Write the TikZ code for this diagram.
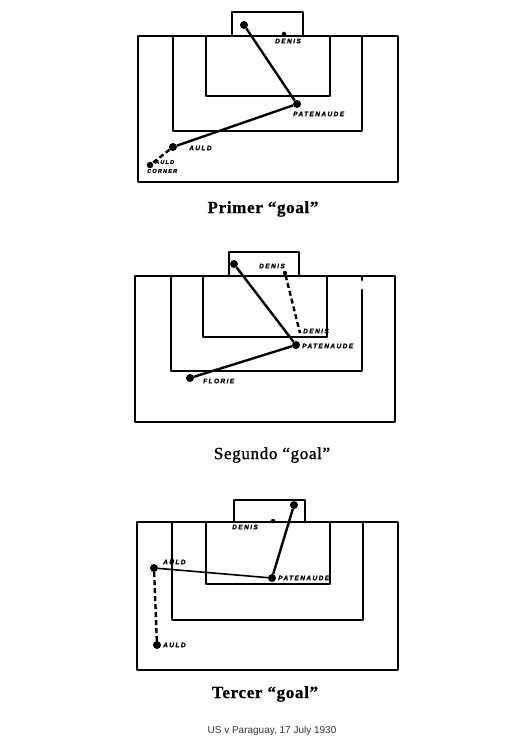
\documentclass[tikz,border=0pt]{standalone}
\usepackage{fontspec}
\newfontfamily\lblfont[LetterSpace=22,FakeBold=1.5]{Liberation Sans}
\newfontfamily\capserif[LetterSpace=4,FakeBold=0.8]{Liberation Serif}
\newfontfamily\segserif[LetterSpace=4,FakeBold=1.2]{Liberation Serif}
\newfontfamily\creditfont{Liberation Sans}
\usetikzlibrary{positioning}
\tikzset{
	field/.style  = {line width=2.2pt,line cap=round,line join=round},
	player/.style = {circle,fill=black,inner sep=0pt,minimum size=8pt},
	spot/.style   = {circle,fill=black,inner sep=0pt,minimum size=4.5pt},
	plabel/.style = {font=\lblfont\fontsize{6.5}{7}\selectfont\bfseries\itshape,
		inner sep=0pt,anchor=west},
	slabel/.style = {font=\lblfont\fontsize{5.5}{6}\selectfont\bfseries\itshape,
		inner sep=0pt,anchor=west},
	run/.style    = {line width=2.4pt},
	runb/.style   = {line width=2.4pt,dash pattern=on 5pt off 3pt},
	goaltitle/.style = {font=\capserif\fontsize{17}{19}\selectfont\bfseries},
}
\begin{document}
\begin{tikzpicture}[x=1pt,y=-1pt]
	\useasboundingbox (0,0) rectangle (521,751);
	
	%% Primer goal
	\draw[field] (232,36) |- (303,12) -- (303,36);
	\draw[field] (138,36) rectangle (398,182);
	\draw[field] (173,36) |- (362,131) -- (362,36);
	\draw[field] (206,36) |- (330,96) -- (330,36);
	\node (g1) [player] at (244,25) {};
	\node (den1) [spot] at (284,34) {};
	\node (pat1) [player] at (297,104) {};
	\node (auld1) [player] at (173,147) {};
	\node (ck1) [player,minimum size=6.5pt] at (150,165) {};
	\draw[run] (g1) -- (pat1) -- (auld1);
	\draw[runb] (auld1) -- (ck1);
	\node[plabel] at (275,41) {DENIS};
	\node[plabel] at (293,114) {PATENAUDE};
	\node[plabel] at (189,148) {AULD};
	\node[slabel] at (155,162) {AULD};
	\node[slabel] at (147,171) {CORNER};
	\node[goaltitle] (t1) at (263,209) {Primer “goal”};
	
	%% Segundo goal
	\draw[field] (229,276) |- (299,252) -- (299,276);
	\draw[field] (135,276) rectangle (395,422);
	\draw[field] (362,290) -- (362,371) -| (171,276);
	\draw[field] (362,276) -- (362,280);
	\draw[field] (203,276) |- (327,337) -- (327,276);
	\node (g2) [player] at (234,264) {};
	\node (den2) [spot] at (285,273) {};
	\coordinate (den2b) at (300,333);
	\node (pat2) [player] at (296,345) {};
	\node (flo2) [player] at (190,378) {};
	\draw[run] (g2) -- (pat2) -- (flo2);
	\draw[runb] (den2) -- (den2b);
	\node[plabel] at (259,266) {DENIS};
	\node[plabel] at (303,331) {DENIS};
	\node[plabel] at (302,346) {PATENAUDE};
	\node[plabel] at (203,381) {FLORIE};
	\node[goaltitle,font=\segserif\fontsize{17}{19}\selectfont] (t2) at (272,455) {Segundo “goal”};
	
	%% Tercer goal
	\draw[field] (234,522) |- (305,500) -- (305,522);
	\draw[field] (137,522) rectangle (398,670);
	\draw[field] (172,522) |- (363,620) -- (363,522);
	\draw[field] (206,522) |- (330,584) -- (330,522);
	\node (g3) [player] at (294,505) {};
	\node (den3) [spot] at (273,521) {};
	\node (pat3) [player] at (272,578) {};
	\node (auld3) [player] at (154,568) {};
	\node (auld3b) [player] at (157,645) {};
	\draw[run] (g3) -- (pat3);
	\draw[line width=1.6pt] (auld3) -- (pat3);
	\draw[runb] (auld3) -- (auld3b);
	\node[plabel] at (232,527) {DENIS};
	\node[plabel] at (163,562) {AULD};
	\node[plabel] at (278,578) {PATENAUDE};
	\node[plabel] at (163,645) {AULD};
	\node[goaltitle] (t3) at (265,694) {Tercer “goal”};
	
	\node[font=\creditfont\fontsize{10}{12}\selectfont,text=black!80] (src) at (272,731)
	{US v Paraguay, 17 July 1930};
\end{tikzpicture}
\end{document}
